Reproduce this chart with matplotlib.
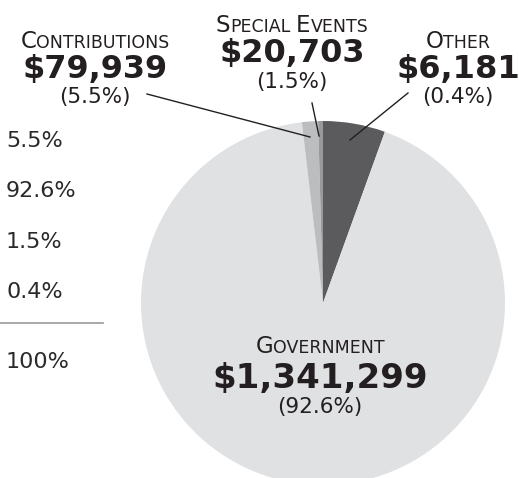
import matplotlib
matplotlib.use("Agg")
import matplotlib.pyplot as plt

# ---- data ----
categories = ["Contributions", "Government", "Special Events", "Other"]
values = [79939, 1341299, 20703, 6181]
pct_labels = ["5.5%", "92.6%", "1.5%", "0.4%"]
total_label = "100%"
colors = ["#5b5b5d", "#e0e1e3", "#bcbdbf", "#98999b"]

W, H = 519, 478
fig = plt.figure(figsize=(W / 100, H / 100), dpi=100)
ax = fig.add_axes([0, 0, 1, 1])


def Y(y):
    return H - y


ax.pie(values, colors=colors, startangle=90, counterclock=False,
       center=(323, Y(303)), radius=182, wedgeprops=dict(linewidth=0),
       frame=True)
ax.set_xlim(0, W)
ax.set_ylim(0, H)
ax.axis("off")

fig.canvas.draw()
renderer = fig.canvas.get_renderer()

FONT = "DejaVu Sans"
INK = "#231f20"


def smallcaps(xc, yb, text, big, small):
    pieces = []
    for wi, word in enumerate(text.upper().split(" ")):
        pieces.append((word[0], big, wi > 0))
        pieces.append((word[1:], small, False))
    arts = []
    x = 0
    for s, size, gap in pieces:
        if gap:
            x += small * 0.45
        t = ax.text(0, Y(yb), s, fontsize=size, family=FONT, color=INK,
                    ha="left", va="baseline")
        w = t.get_window_extent(renderer).width
        arts.append((t, x))
        x += w
    x0 = xc - x / 2
    for t, off in arts:
        t.set_x(x0 + off)


label_pos = {
    "Contributions": (95, 48, 78, 103),
    "Special Events": (292, 32, 62, 88),
    "Other": (458, 48, 78, 103),
    "Government": (320, 353, 388, 413),
}
for cat, val, pct in zip(categories, values, pct_labels):
    xc, yl, yv, yp = label_pos[cat]
    smallcaps(xc, yl, cat, 16.5, 12.5)
    ax.text(xc, Y(yv), f"${val:,}", fontsize=23 if cat != "Government" else 24.5,
            family=FONT, weight="bold", color=INK, ha="center", va="baseline")
    ax.text(xc, Y(yp), f"({pct})", fontsize=15.5, family=FONT, color=INK,
            ha="center", va="baseline")

# leader lines
leaders = {
    "Contributions": [(147, 94), (310, 137)],
    "Special Events": [(312, 103), (319, 136)],
    "Other": [(408, 93), (350, 140)],
}
for cat, pts in leaders.items():
    ax.plot([p[0] for p in pts], [Y(p[1]) for p in pts], color="#231f20", lw=1.0)

# left table
table_y = [147, 197, 248, 298]
for p, yb in zip(pct_labels, table_y):
    ax.text(6, Y(yb), p, fontsize=16, family=FONT, color="#2a2a2a",
            ha="left", va="baseline")
ax.plot([0, 103], [Y(323), Y(323)], color="#999999", lw=1.2)
ax.text(6, Y(368), total_label, fontsize=16, family=FONT, color="#2a2a2a",
        ha="left", va="baseline")

fig.savefig("out.png", dpi=100)
